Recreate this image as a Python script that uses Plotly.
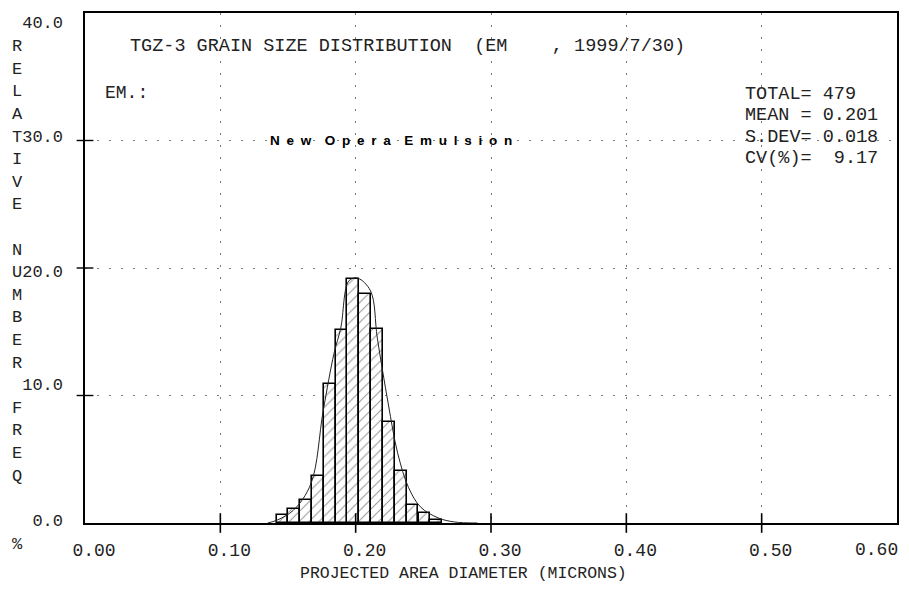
import plotly.graph_objects as go

# ---- data ----
bin_centers = [0.1459, 0.1546, 0.1634, 0.1721, 0.1808, 0.1896, 0.1983,
               0.2071, 0.2158, 0.2245, 0.2333, 0.2420, 0.2508, 0.2595]
rel_freq = [0.6, 1.1, 1.8, 3.7, 10.9, 15.1, 19.1, 18.0, 15.2, 7.9, 4.1, 1.4, 0.8, 0.2]
bin_width = 0.00874

curve_x = [0.135, 0.142, 0.154, 0.167, 0.176, 0.184, 0.189, 0.195, 0.2015,
           0.211, 0.216, 0.224, 0.231, 0.239, 0.248, 0.261, 0.273, 0.29]
curve_y = [0.0, 0.23, 1.0, 3.1, 8.8, 13.3, 15.3, 19.0, 19.2,
           18.2, 14.5, 9.4, 5.5, 2.8, 1.25, 0.4, 0.08, 0.0]

x_ticks = [0.0, 0.1, 0.2, 0.3, 0.4, 0.5, 0.6]
x_tick_labels = ["0.00", "0.10", "0.20", "0.30", "0.40", "0.50", "0.60"]
y_ticks = [0, 10, 20, 30, 40]
y_tick_labels = ["0.0", "10.0", "20.0", "30.0", "40.0"]

title_text = "TGZ-3 GRAIN SIZE DISTRIBUTION  (EM    , 1999/7/30)"
em_text = "EM.:"
emulsion_name = "New Opera Emulsion"
stats_lines = ["TOTAL= 479", "MEAN = 0.201", "S.DEV= 0.018", "CV(%)=  9.17"]
x_title = "PROJECTED AREA DIAMETER (MICRONS)"
y_title_words = ["RELATIVE", "NUMBER", "FREQ"]

MONO = "Liberation Mono, DejaVu Sans Mono, monospace"
NB = "\u00a0"
EN = "\u2002"

# page body has an 8px margin: size the figure so the plot frame lands
# where the reference has it (frame 85..897 x 11..523 in page pixels)
OFF = 8
W, H = 909 - OFF, 589 - OFF
L, R, T, B = 85 - OFF, 12, 11 - OFF, 66
PW, PH = W - L - R, H - T - B


def px_x(p):
    return (p - OFF - L) / PW


def px_y(p):
    return (H - B - (p - OFF)) / PH


fig = go.Figure()

fig.add_trace(go.Bar(
    x=bin_centers, y=rel_freq, width=bin_width,
    marker=dict(color="white",
                line=dict(color="black", width=1.6),
                pattern=dict(shape="/", fgcolor="#333", bgcolor="white",
                             size=7, solidity=0.15)),
    showlegend=False, hoverinfo="skip"))

fig.add_trace(go.Scatter(
    x=curve_x, y=curve_y, mode="lines",
    line=dict(color="#222", width=1, shape="spline"),
    showlegend=False, hoverinfo="skip"))

# crossing tick marks on the axes
fig.add_trace(go.Scatter(
    x=x_ticks[1:-1], y=[0] * (len(x_ticks) - 2), mode="markers",
    marker=dict(symbol="line-ns", size=14, line=dict(color="black", width=1.6)),
    cliponaxis=False, showlegend=False, hoverinfo="skip"))
fig.add_trace(go.Scatter(
    x=[0] * (len(y_ticks) - 2), y=y_ticks[1:-1], mode="markers",
    marker=dict(symbol="line-ew", size=12, line=dict(color="black", width=1.4)),
    cliponaxis=False, showlegend=False, hoverinfo="skip"))

ann = []

# left column: vertical axis title letters interleaved with y tick labels
letters_rows = {}
r = 1
for word in y_title_words:
    for ch in word:
        letters_rows[r] = ch
        r += 1
    r += 1
tick_rows = {40: 0, 30: 5, 20: 11, 10: 16, 0: 22}
for i in range(24):
    ch = letters_rows.get(i, NB)
    lab = ""
    for v, lbl in zip(y_ticks, y_tick_labels):
        if tick_rows[v] == i:
            lab = lbl.rjust(4, NB)
    if i == 23:
        ch = "%"
    text = (ch + lab) if lab else ch
    ann.append(dict(text=text, xref="paper", yref="paper",
                    x=px_x(10), y=px_y(22 + i * 22.7),
                    xanchor="left", yanchor="middle", showarrow=False,
                    font=dict(family=MONO, size=17, color="#222")))

# last x tick label sits inside the frame edge in the reference
ann.append(dict(text=x_tick_labels[-1], xref="paper", yref="paper",
                x=px_x(900), y=px_y(550), xanchor="right", yanchor="middle",
                showarrow=False, font=dict(family=MONO, size=18, color="#222")))

ann.append(dict(text=title_text.replace(" ", NB), xref="paper", yref="paper",
                x=px_x(128), y=px_y(45), xanchor="left", yanchor="middle",
                showarrow=False, font=dict(family=MONO, size=18.5, color="#222")))
ann.append(dict(text=em_text, xref="paper", yref="paper",
                x=px_x(103), y=px_y(91), xanchor="left", yanchor="middle",
                showarrow=False, font=dict(family=MONO, size=18, color="#222")))
spaced = (EN * 2).join(EN.join(w) for w in emulsion_name.split(" "))
ann.append(dict(text="<b>" + spaced + "</b>", xref="paper", yref="paper",
                x=px_x(268), y=px_y(139), xanchor="left", yanchor="middle",
                showarrow=False,
                font=dict(family="Liberation Sans, Arial", size=13.5, color="black")))
for i, s in enumerate(stats_lines):
    ann.append(dict(text=s.replace(" ", NB), xref="paper", yref="paper",
                    x=px_x(743), y=px_y(93 + i * 21.3), xanchor="left",
                    yanchor="middle", showarrow=False,
                    font=dict(family=MONO, size=18.5, color="#222")))
ann.append(dict(text=x_title.replace(" ", NB), xref="paper", yref="paper",
                x=px_x(463), y=px_y(574), xanchor="center", yanchor="middle",
                showarrow=False, font=dict(family=MONO, size=16.5, color="#222")))

fig.update_layout(
    width=W, height=H,
    margin=dict(l=L, r=R, t=T, b=B),
    paper_bgcolor="white", plot_bgcolor="white",
    bargap=0, annotations=ann,
    xaxis=dict(range=[0, 0.6], tickvals=x_ticks,
               ticktext=x_tick_labels[:-1] + [""],
               showline=True, mirror=True, linecolor="black", linewidth=2,
               showgrid=True, gridcolor="#777", gridwidth=1.4, griddash="2px,10px",
               zeroline=False, ticks="", ticklabelshift=9, ticklabelstandoff=9,
               tickfont=dict(family=MONO, size=18, color="#222")),
    yaxis=dict(range=[0, 40], tickvals=y_ticks, showticklabels=False,
               showline=True, mirror=True, linecolor="black", linewidth=2,
               showgrid=True, gridcolor="#777", gridwidth=1.4, griddash="2px,10px",
               zeroline=False, ticks=""),
)

fig.write_html("out.html")
